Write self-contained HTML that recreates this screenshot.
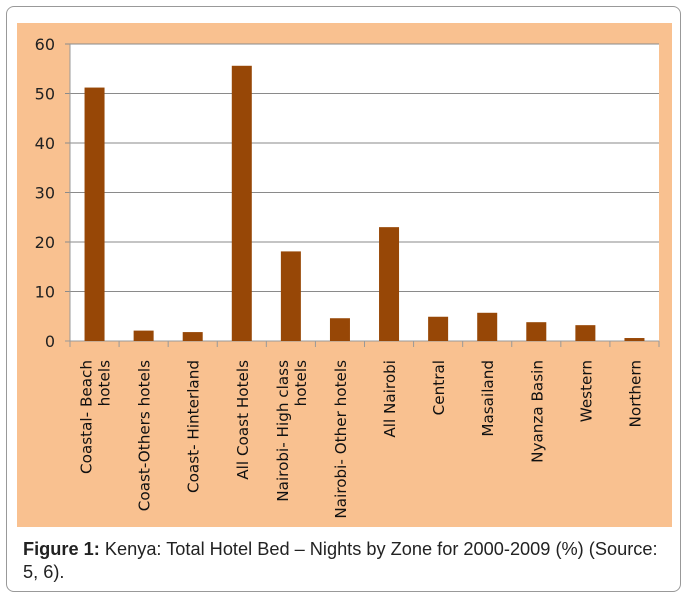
<!DOCTYPE html>
<html><head><meta charset="utf-8"><style>
body{margin:0;width:688px;height:598px;background:#fff;font-family:"Liberation Sans",sans-serif;overflow:hidden}
#frame{position:absolute;left:6px;top:6px;width:675px;height:586px;border:1px solid #999;border-radius:8px;box-sizing:border-box}
#cap{position:absolute;left:23px;top:538px;font-size:18.2px;line-height:23px;color:#222;white-space:nowrap}
</style></head><body>
<div id="frame"></div>
<svg id="chart" width="688" height="598" style="position:absolute;left:0;top:0">
<rect x="17" y="23" width="655" height="504" fill="#f9c190"/>
<rect x="70" y="44" width="589" height="297" fill="#fff"/>
<g id="g"></g>
</svg>
<div id="cap"><b>Figure 1:</b> Kenya: Total Hotel Bed – Nights by Zone for 2000-2009 (%) (Source:<br>5, 6).</div>
<script>
const categories=[["Coastal- Beach","hotels"],["Coast-Others hotels"],["Coast- Hinterland"],["All Coast Hotels"],["Nairobi- High class","hotels"],["Nairobi- Other hotels"],["All Nairobi"],["Central"],["Masailand"],["Nyanza Basin"],["Western"],["Northern"]];
const values=[51.2,2.1,1.8,55.6,18.1,4.6,23,4.9,5.7,3.8,3.2,0.6];
const ticks=[0,10,20,30,40,50,60];
const L=70,R=659,T=44,B=341,MAX=60;
const y=v=>B-(v/MAX)*(B-T);
const bw=(R-L)/categories.length;
const x=i=>L+i*bw;
const g=document.getElementById('g');const NS='http://www.w3.org/2000/svg';
function mk(t,a){const e=document.createElementNS(NS,t);for(const k in a)e.setAttribute(k,a[k]);g.appendChild(e);return e;}
ticks.forEach(t=>{
 const l=mk('line',{x1:L-5,x2:R,y1:y(t),y2:y(t),stroke:t===0?'#999':'#8a8a8a','stroke-width':1});
 
 
 const tx=mk('text',{x:L-15,y:y(t)+6,'text-anchor':'end','font-size':16,fill:'#222','font-family':'DejaVu Sans, sans-serif'});
 tx.textContent=t;
 
 
});
const ax=mk('line',{x1:L,x2:L,y1:T,y2:B+5,stroke:'#999'});


for(let i=0;i<=categories.length;i++){
 const tk=mk('line',{x1:x(i),x2:x(i),y1:B,y2:B+6,stroke:'#999'});
 
 
}
values.forEach((v,i)=>{
 const cx=x(i)+bw/2;
 const r=mk('rect',{x:cx-10,y:y(v),width:20,height:B-y(v),fill:'#974706'});
 
 
 const lines=categories[i];
 lines.forEach((s,j)=>{
  const off=(j-(lines.length-1)/2)*18;
  const tx=mk('text',{transform:`translate(${cx+6+off},${B+19}) rotate(-90)`,'text-anchor':'end','font-size':15.2,fill:'#111','font-family':'DejaVu Sans, sans-serif'});
  tx.textContent=s;
  
  
 });
});
</script>
</body></html>
